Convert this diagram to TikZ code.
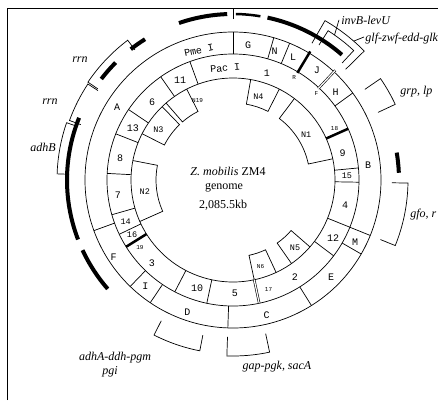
\documentclass[tikz,border=0pt]{standalone}
\usepackage{fontspec}
\setmainfont{Liberation Serif}
\setmonofont{Liberation Mono}

\begin{document}
\begin{tikzpicture}[x=1pt,y=1pt,line width=0.7pt,
    seg/.style={font=\ttfamily\fontsize{10}{10}\selectfont, inner sep=0pt},
    moyen/.style={font=\ttfamily\fontsize{8.5}{8.5}\selectfont, inner sep=0pt},
    petit/.style={font=\ttfamily\fontsize{6}{6}\selectfont, inner sep=0pt},
    gene/.style={font=\itshape\fontsize{12}{12}\selectfont, inner sep=0pt},
    epais/.style={line width=4pt},
    fin/.style={line width=2.5pt}]
    % Cadre
    \clip (-233,-220) rectangle (205,180);
    \draw (-226,-220) -- (-226,172) -- (205,172);
    % Anneaux Pme I et Pac I
    \draw (0,0) circle (148);
    \draw (0,0) circle (126);
    \draw (0,0) circle (102);
    % Limites des fragments Pme I
    \foreach \a in {90,74,67.5,36,-22,-30,-58,-92,236,226,200}
        \draw (\a:126) -- (\a:148);
    \draw[fin] (59:125) -- (59:150);
    \draw[double, double distance=1.2pt, line width=0.6pt] (47:125) -- (47:150);
    % Limites des fragments Pac I
    \foreach \a in {110,125,146,158.5,177,196,205.5,242.5,258,-37,-22,-1,5.5}
        \draw (\a:102) -- (\a:126);
    \draw[fin] (212:102) -- (212:126);
    \draw[fin] (24:102) -- (24:126);
    \draw[double, double distance=1.2pt, line width=0.6pt] (-78:101) -- (-78:126);
    % Fragments N
    \foreach \a/\b in {63/80, 12/53, -55/-41, -78/-65, 169/204, 134/153, 117/131}
        \draw (\a:102) -- (\a:77) arc[start angle=\a, end angle=\b, radius=77] -- (\b:102);
    % Traits noirs exterieurs
    \foreach \a/\b in {92/109, 49/78, 2.5/9.5, 122/128, 135/142.5, 158/201, 205/221}
        \draw[epais] (\a:166) arc[start angle=\a, end angle=\b, radius=166];
    \draw[fin] (80.5:166) arc[start angle=80.5, end angle=89, radius=166];
    \draw (90:161) -- (90:172);
    % Crochets des genes
    \foreach \a/\b/\ri/\ro in {127/146/163/175, 146.5/160/162/174, 161/178/164/176,
        44.5/60/158/184, 47/57.5/160/177, 25/34.5/160/179, -22/-1/159/175,
        -92/-78/157/176, 243/259/158/174}
        \draw (\a:\ri) -- (\a:\ro) arc[start angle=\a, end angle=\b, radius=\ro] -- (\b:\ri);
    \coordinate (invB) at (56.5:192);
    \coordinate (glf) at (47.5:194);
    \draw (55:177) -- (invB);
    \draw (49:184) -- (glf);
    % Noms des fragments Pme I
    \node[seg, rotate=12] (pme) at (104.7:134) {Pme I};
    \foreach \t/\a/\r in {G/83.6/136, N/72/135, L/64/137, J/52.6/138, H/40.5/135,
        B/6.3/136, M/-27/137, E/-44.7/138, C/-76/139, D/-109/140, I/230.6/138,
        F/212.7/142, A/147.8/137}
        \node[seg] (seg\t) at (\a:\r) {\t};
    % Noms des fragments Pac I
    \node[seg, rotate=5] (pac) at (94:112) {Pac I};
    \foreach \t/\a/\r in {11/117.9/113, 6/136/112.5, 13/152.5/113, 8/169/115,
        7/187.4/116, 3/225.7/116, 10/251.6/114, 5/-89/113, 2/-57.4/115,
        12/-30/115.6, 4/-12.6/115, 9/13.8/113, 1/72.4/112}
        \node[seg] (pac\t) at (\a:\r) {\t};
    \foreach \t/\a/\r in {14/201/115, 16/208.6/115, 15/2.2/114}
        \node[moyen] (pac\t) at (\a:\r) {\t};
    \foreach \t/\a/\r in {19/216/115, 17/-72/115, 18/27/114, F/46/120, R/59/119}
        \node[petit] (pac\t) at (\a:\r) {\t};
    % Fragments N
    \foreach \t/\a/\r in {N4/73/87, N1/31.6/86, N5/-47.6/92, N2/187.8/89, N3/146/90}
        \node[moyen] (box\t) at (\a:\r) {\t};
    \node[petit] (boxN6) at (-72.4:91) {N6};
    \node[petit] (boxN19) at (114:87) {N19};
    % Genome
    \node[font=\fontsize{12}{12}\selectfont] (titre) at (-5,9) {\textit{Z. mobilis} ZM4};
    \node[font=\fontsize{12}{12}\selectfont] (genome) at (-9,-8) {genome};
    \node[font=\fontsize{12}{12}\selectfont] (taille) at (-10,-25) {2,085.5kb};
    % Genes
    \node[gene] (rrnA) at (-153,120) {rrn};
    \node[gene] (rrnB) at (-183,78) {rrn};
    \node[gene] (adhB) at (-190,33) {adhB};
    \node[gene, anchor=west] (invBlab) at ([xshift=2]invB) {invB-levU};
    \node[gene, anchor=west] (glflab) at ([xshift=1,yshift=-2]glf) {glf-zwf-edd-glk};
    \node[gene, anchor=west] (grp) at (167,88) {grp, lp};
    \node[gene, anchor=west] (gfo) at (177,-35) {gfo, r};
    \node[gene] (gap) at (44,-187) {gap-pgk, sacA};
    \node[gene] (adhA) at (-118,-178) {adhA-ddh-pgm};
    \node[gene] (pgi) at (-123,-192) {pgi};
\end{tikzpicture}
\end{document}
